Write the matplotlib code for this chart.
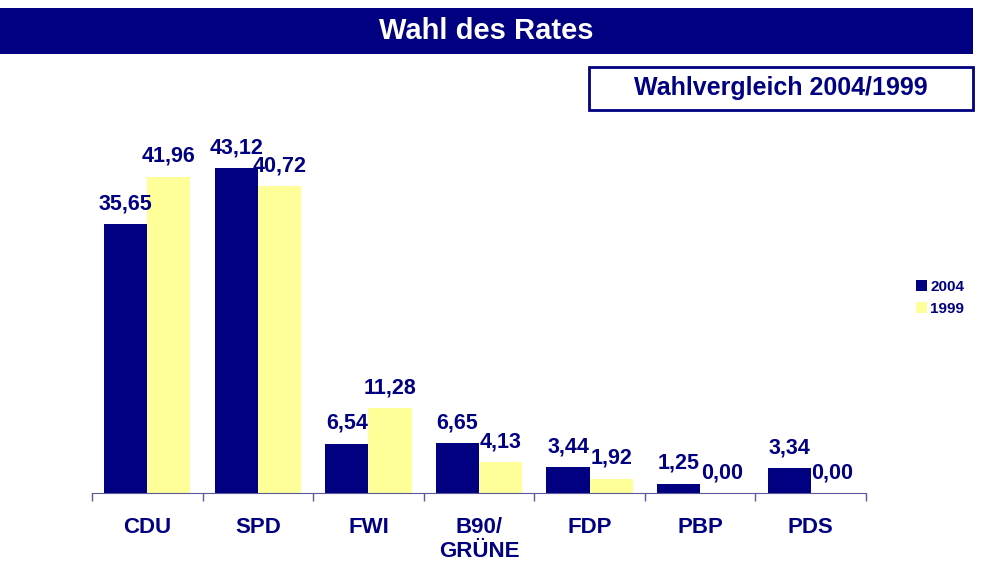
import matplotlib.pyplot as plt
from matplotlib.patches import Rectangle

# data
parties = ['CDU', 'SPD', 'FWI', 'B90/\nGRÜNE', 'FDP', 'PBP', 'PDS']
votes_2004 = [35.65, 43.12, 6.54, 6.65, 3.44, 1.25, 3.34]
votes_1999 = [41.96, 40.72, 11.28, 4.13, 1.92, 0.00, 0.00]

navy = '#000080'
yellow = '#FFFF99'
W, H = 987, 565

plt.rcParams.update({
    'font.family': 'Liberation Sans',
    'font.weight': 'bold',
})
fig = plt.figure(figsize=(W / 100, H / 100), dpi=100)

# title banner
fig.patches.append(Rectangle((0, 1 - 54 / H), 973 / W, 46 / H, transform=fig.transFigure,
                             facecolor=navy, edgecolor='none'))
fig.text(486 / W, 1 - 31 / H, 'Wahl des Rates', color='white', fontsize=21,
         fontweight='bold', ha='center', va='center')

# subtitle box
fig.patches.append(Rectangle((589 / W, 1 - 110 / H), 384 / W, 43 / H, transform=fig.transFigure,
                             facecolor='white', edgecolor=navy, linewidth=2))
fig.text(781 / W, 1 - 88 / H, 'Wahlvergleich 2004/1999', color=navy, fontsize=18,
         fontweight='bold', ha='center', va='center')

# bars
ax = fig.add_axes([92 / W, (H - 493) / H, (866 - 92) / W, 377 / H])
w = 0.39
x = list(range(len(parties)))
b1 = ax.bar([i - w / 2 for i in x], votes_2004, w, color=navy, label='2004')
b2 = ax.bar([i + w / 2 for i in x], votes_1999, w, color=yellow, label='1999')
for bars, vals in ((b1, votes_2004), (b2, votes_1999)):
    for r, v in zip(bars, vals):
        ax.annotate('{:.2f}'.format(v).replace('.', ','),
                    (r.get_x() + r.get_width() / 2, v), xytext=(0, 7),
                    textcoords='offset points', ha='center', va='bottom',
                    color=navy, fontsize=15.5, fontweight='bold')

ax.set_xlim(-0.5, len(parties) - 0.5)
ax.set_ylim(0, 50)
ax.set_xticks(x, parties)
ax.set_xticks([i - 0.5 for i in range(len(parties) + 1)], minor=True)
ax.tick_params(axis='x', which='major', length=0, pad=17, labelsize=16, labelcolor=navy)
ax.tick_params(axis='x', which='minor', length=6, width=1, color='#5a5a9a')
ax.set_yticks([])
for s in ('top', 'right', 'left'):
    ax.spines[s].set_visible(False)
ax.spines['bottom'].set_color('#5a5a9a')

fig.legend(handles=[b1, b2], loc='upper left', bbox_to_anchor=(902 / W, 1 - 266 / H),
           frameon=False, handlelength=0.75, handleheight=0.75,
           handletextpad=0.2, labelspacing=0.55, labelcolor=navy,
           prop={'weight': 'bold', 'size': 11})

fig.savefig('out.png', dpi=100)
